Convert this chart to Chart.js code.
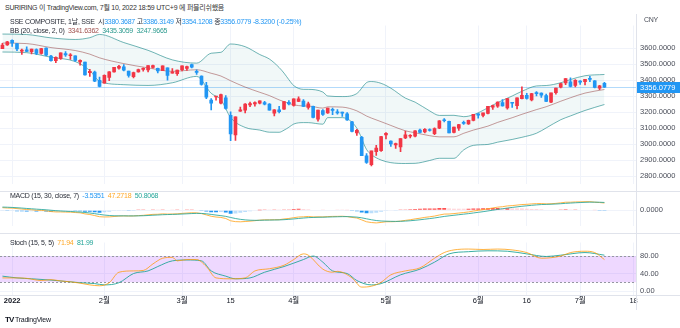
<!DOCTYPE html>
<html><head><meta charset="utf-8">
<script src="https://cdn.jsdelivr.net/npm/chart.js@4.4.0/dist/chart.umd.min.js"></script>
<style>
body{margin:0;background:#fff;overflow:hidden;}
#wrap{position:relative;width:680px;height:328px;font-family:"Liberation Sans",Arial,"Noto Sans CJK KR",sans-serif;}
canvas{position:absolute;left:0;}
.t{position:absolute;white-space:nowrap;font-size:7px;line-height:10px;color:#2a2e39;letter-spacing:-0.25px;}
.ln{position:absolute;background:#e0e3eb;}
</style></head><body>
<div id="wrap">
<canvas id="cMain" width="680" height="175" style="top:17px"></canvas>
<canvas id="cMacd" width="680" height="42" style="top:192px"></canvas>
<canvas id="cStoch" width="680" height="78" style="top:234px"></canvas>
<div class="ln" style="left:0;top:191px;width:680px;height:1px"></div>
<div class="ln" style="left:0;top:233px;width:680px;height:1px"></div>
<div class="ln" style="left:0;top:295px;width:680px;height:1px"></div>
<div class="ln" style="left:636px;top:14px;width:1px;height:296px"></div>
<div class="t" style="left:5px;top:3px;color:#333">SURIRING 이 TradingView.com, 7월 10, 2022 18:59 UTC+9 에 퍼블리쉬했음</div>
<div class="t" style="left:10px;top:17px">SSE COMPOSITE, 1날, SSE&nbsp;&nbsp;시<span style="color:#2196f3">3380.3687</span> 고<span style="color:#2196f3">3386.3149</span> 저<span style="color:#2196f3">3354.1208</span> 종<span style="color:#2196f3">3356.0779 -8.3200 (-0.25%)</span></div>
<div class="t" style="left:10px;top:26px">BB (20, close, 2, 0)&nbsp;&nbsp;<span style="color:#a0504e">3341.6362</span>&nbsp;&nbsp;<span style="color:#2b9a8e">3435.3059</span>&nbsp;&nbsp;<span style="color:#2b9a8e">3247.9665</span></div>
<div class="t" style="left:644px;top:15px;color:#4a4e59">CNY</div>
<div class="t" style="left:10px;top:191px">MACD (15, 30, close, 7)&nbsp;&nbsp;<span style="color:#2196f3">-3.5351</span>&nbsp;&nbsp;<span style="color:#ffa726">47.2718</span>&nbsp;&nbsp;<span style="color:#26a69a">50.8068</span></div>
<div class="t" style="left:10px;top:238px">Stoch (15, 5, 5)&nbsp;&nbsp;<span style="color:#ffa726">71.94</span>&nbsp;&nbsp;<span style="color:#26a69a">81.99</span></div>
<div class="t" style="left:5px;top:315px;font-size:7px;color:#131722"><b style="font-size:8px;letter-spacing:-1px">TV</b>&nbsp;TradingView</div>
</div>
<script>
// ---------- data ----------
const dates = ['2021-12-30','2021-12-31',
'2022-01-04','2022-01-05','2022-01-06','2022-01-07','2022-01-10','2022-01-11','2022-01-12','2022-01-13','2022-01-14','2022-01-17','2022-01-18','2022-01-19','2022-01-20','2022-01-21','2022-01-24','2022-01-25','2022-01-26','2022-01-27','2022-01-28',
'2022-02-07','2022-02-08','2022-02-09','2022-02-10','2022-02-11','2022-02-14','2022-02-15','2022-02-16','2022-02-17','2022-02-18','2022-02-21','2022-02-22','2022-02-23','2022-02-24','2022-02-25','2022-02-28',
'2022-03-01','2022-03-02','2022-03-03','2022-03-04','2022-03-07','2022-03-08','2022-03-09','2022-03-10','2022-03-11','2022-03-14','2022-03-15','2022-03-16','2022-03-17','2022-03-18','2022-03-21','2022-03-22','2022-03-23','2022-03-24','2022-03-25','2022-03-28','2022-03-29','2022-03-30','2022-03-31',
'2022-04-01','2022-04-06','2022-04-07','2022-04-08','2022-04-11','2022-04-12','2022-04-13','2022-04-14','2022-04-15','2022-04-18','2022-04-19','2022-04-20','2022-04-21','2022-04-22','2022-04-25','2022-04-26','2022-04-27','2022-04-28','2022-04-29',
'2022-05-05','2022-05-06','2022-05-09','2022-05-10','2022-05-11','2022-05-12','2022-05-13','2022-05-16','2022-05-17','2022-05-18','2022-05-19','2022-05-20','2022-05-23','2022-05-24','2022-05-25','2022-05-26','2022-05-27','2022-05-30','2022-05-31',
'2022-06-01','2022-06-02','2022-06-06','2022-06-07','2022-06-08','2022-06-09','2022-06-10','2022-06-13','2022-06-14','2022-06-15','2022-06-16','2022-06-17','2022-06-20','2022-06-21','2022-06-22','2022-06-23','2022-06-24','2022-06-27','2022-06-28','2022-06-29','2022-06-30',
'2022-07-01','2022-07-04','2022-07-05','2022-07-06','2022-07-07','2022-07-08'];
const futureDates = ['2022-07-11','2022-07-12','2022-07-13','2022-07-14','2022-07-15','2022-07-18'];

const opens = [3597,3620,3649.15,3628.26,3581.22,3588.99,3577.5,3590,3567,3600,3550,3521,3535,3566,3552,3551,3513,3512,3446,3451,3399,
3381,3417,3452,3475,3483,3456,3421,3451,3467,3464,3480,3473,3459,3477,3443,3441,
3466,3473,3497,3455,3426,3366,3276,3295,3256,3290,3180,3058,3207,3212,3246,3251,3256,3260,3250,3194,3214,3219,3261,
3242,3268,3270,3229,3236,3157,3210,3196,3214,3198,3196,3189,3140,3070,3043,2927,2873,2954,2960,
3058,3020,2995,2983,3039,3050,3050,3089,3077,3092,3066,3100,3147,3143,3073,3100,3131,3127,3148,
3189,3180,3193,3232,3237,3260,3226,3257,3240,3285,3306,3276,3320,3320,3303,3263,3322,3356,3382,3390,3367,
3389,3390,3411,3396,3350,3380.3687];
const highs = [3630,3642,3651.89,3628.26,3594.49,3607.23,3593.6,3596,3598,3602,3555,3545,3570,3578,3566,3551,3527,3513,3467,3457,3419,
3433,3453,3480,3493,3497,3456,3451,3469,3477,3491,3494,3475,3490,3477,3472,3463,
3489,3488,3501,3465,3427,3386,3285,3298,3313,3304,3202,3171,3232,3253,3263,3265,3271,3268,3253,3216,3236,3267,3272,
3283,3296,3278,3263,3238,3213,3216,3226,3225,3216,3200,3197,3143,3093,3049,2942,2958,2993,3050,
3072,3022,3007,3036,3082,3061,3085,3094,3097,3096,3103,3147,3160,3144,3107,3124,3144,3150,3186,
3192,3195,3237,3244,3265,3278,3286,3261,3289,3358,3318,3317,3328,3321,3313,3320,3350,3381,3409,3414,3404,
3397,3405,3424,3397,3368,3386.3149];
const lows = [3596,3617,3610.09,3583.47,3559.88,3577.93,3564,3559,3562,3552,3519,3509,3530,3548,3529,3517,3493,3431,3424,3390,3357,
3381,3397,3449,3469,3457,3419,3414,3449,3456,3452,3474,3445,3459,3400,3443,3429,
3458,3461,3476,3435,3369,3284,3214,3275,3251,3219,3023,3024,3205,3196,3235,3237,3252,3245,3212,3177,3196,3218,3245,
3237,3265,3234,3219,3164,3144,3180,3192,3185,3187,3173,3148,3077,3055,2928,2880,2864,2931,2955,
3033,2986,2974,2953,3035,3040,3045,3070,3070,3082,3060,3097,3140,3070,3070,3086,3124,3123,3145,
3162,3170,3189,3217,3230,3238,3219,3230,3221,3283,3281,3270,3301,3292,3266,3260,3313,3352,3372,3358,3358,
3373,3370,3391,3351,3341,3354.1208];
const closes = [3619.19,3639.78,3632.33,3595.18,3586.08,3579.54,3593.52,3567.44,3597.43,3555.26,3521.26,3541.67,3569.91,3558.18,3555.06,3522.57,3524.11,3433.06,3455.67,3394.25,3361.44,
3429.58,3452.63,3479.95,3485.91,3462.95,3428.88,3446.65,3465.83,3468.04,3490.76,3490.61,3457.15,3489.15,3429.96,3451.41,3462.31,
3488.83,3484.19,3481.11,3447.65,3372.86,3293.53,3256.39,3296.09,3309.75,3223.53,3063.97,3170.71,3215.04,3251.07,3253.69,3259.86,3271.03,3250.26,3212.24,3214.50,3203.94,3266.60,3252.20,
3282.72,3283.43,3236.70,3251.85,3167.13,3213.33,3186.82,3225.64,3211.24,3195.52,3194.03,3151.05,3079.81,3086.92,2928.51,2886.43,2958.28,2975.49,3047.06,
3067.76,3001.56,3004.14,3035.84,3058.70,3054.99,3084.28,3073.75,3093.70,3085.98,3096.96,3146.86,3146.57,3070.93,3107.46,3123.11,3130.24,3149.06,3186.43,
3182.16,3195.46,3236.37,3241.76,3263.79,3238.95,3284.83,3255.55,3288.91,3305.41,3285.38,3316.79,3315.43,3306.72,3267.20,3320.15,3349.75,3379.19,3409.21,3361.52,3398.62,
3387.64,3405.43,3404.03,3355.35,3364.40,3356.0779];

// Bollinger Bands (20, 2) read at selected bars
const bbIdx   = [0,5,10,15,18,20,25,30,35,40,43,45,47,50,53,55,57,58,59,60,62,63,66,67,70,73,75,76,78,80,83,85,88,90,93,95,97,100,102,105,107,110,112,115,117,120,124];
const bbBasis = [3631.6,3628.1,3603.2,3584.8,3562.2,3539.2,3503.1,3476.5,3455.0,3464.8,3442.8,3425.6,3396.2,3356.8,3324.2,3303.3,3276.7,3265.8,3254.4,3246.1,3238.8,3238.6,3225.4,3233.5,3231.7,3208.4,3176.0,3163.2,3140.7,3117.5,3083.8,3071.8,3053.3,3046.0,3046.3,3068.2,3088.3,3113.1,3136.4,3165.5,3186.8,3216.2,3234.0,3268.4,3290.2,3319.2,3341.6];
const bbUpper = [3687.6,3684.7,3663.8,3653.8,3665.0,3685.2,3634.5,3586.1,3526.4,3506.2,3568.0,3573.6,3625.6,3608.8,3560.0,3531.5,3478.7,3444.0,3402.8,3366.1,3342.6,3342.4,3325.6,3301.1,3297.5,3316.4,3384.6,3391.4,3380.1,3349.9,3287.8,3262.8,3208.1,3179.8,3180.5,3172.0,3183.7,3227.5,3259.8,3301.1,3330.4,3363.8,3366.4,3383.8,3403.8,3427.6,3435.3];
const bbLower = [3575.6,3571.5,3542.6,3515.8,3459.4,3393.2,3371.7,3366.9,3383.6,3423.4,3317.6,3277.6,3166.8,3104.8,3088.4,3075.1,3074.7,3087.6,3106.0,3126.1,3135.0,3134.8,3125.2,3165.9,3165.9,3100.4,2967.4,2935.0,2901.3,2885.1,2879.8,2880.8,2898.5,2912.2,2912.1,2964.4,2992.9,2998.7,3013.0,3029.9,3043.2,3068.6,3101.6,3153.0,3176.6,3210.8,3248.0];

// MACD (15, 30, 7)
const macdLine = [17.0,15.0,14.2,11.2,8.1,5.1,3.5,0.4,-0.3,-3.4,-7.9,-10.3,-10.4,-11.2,-11.9,-14.3,-16.1,-23.0,-27.0,-33.9,-41.3,
-42.8,-42.3,-39.9,-37.2,-36.1,-36.9,-36.3,-34.3,-32.3,-29.0,-26.1,-25.5,-22.9,-24.2,-23.7,-22.5,
-19.7,-17.6,-15.9,-16.3,-21.0,-29.5,-38.5,-43.2,-45.8,-52.7,-67.7,-73.0,-74.1,-72.2,-69.9,-67.0,-63.4,-61.2,-61.3,-60.7,-60.4,-55.8,-52.5,
-47.5,-43.0,-41.8,-39.5,-42.5,-41.9,-42.6,-40.4,-39.3,-39.0,-38.4,-40.3,-45.9,-49.6,-61.8,-73.9,-78.9,-81.3,-78.2,
-73.8,-73.6,-72.7,-69.5,-64.9,-60.9,-55.3,-50.9,-45.7,-41.6,-37.2,-30.2,-24.3,-23.8,-21.0,-17.6,-14.3,-10.3,-4.7,
-0.3,4.1,10.1,15.3,20.7,23.5,28.4,30.5,33.9,37.4,38.7,41.5,43.3,43.9,41.6,42.6,44.9,48.2,52.3,52.4,54.3,
54.8,55.8,56.1,52.8,50.3,47.27];
const signalLine = [21.0,20.0,18.6,16.8,14.6,12.2,10.0,7.6,5.6,3.4,0.6,-2.1,-4.2,-6.0,-7.5,-9.2,-10.9,-13.9,-17.2,-21.4,-26.4,
-30.5,-33.5,-35.1,-35.6,-35.7,-36.0,-36.1,-35.7,-34.9,-33.4,-31.6,-30.1,-28.3,-27.3,-26.4,-25.4,
-24.0,-22.4,-20.8,-19.7,-20.0,-22.4,-26.4,-30.6,-34.4,-39.0,-46.2,-52.9,-58.2,-61.7,-63.8,-64.6,-64.3,-63.5,-63.0,-62.4,-61.9,-60.4,-58.4,
-55.7,-52.5,-49.8,-47.2,-46.0,-45.0,-44.4,-43.4,-42.4,-41.5,-40.7,-40.6,-41.9,-43.8,-48.3,-54.7,-60.8,-65.9,-69.0,
-70.2,-71.1,-71.5,-71.0,-69.5,-67.3,-64.3,-61.0,-57.2,-53.3,-49.3,-44.5,-39.5,-35.6,-31.9,-28.3,-24.8,-21.2,-17.1,
-12.9,-8.7,-4.0,0.8,5.8,10.2,14.8,18.7,22.5,26.2,29.3,32.4,35.1,37.3,38.4,39.4,40.8,42.7,45.1,46.9,48.8,
50.3,51.7,52.8,52.6,52.2,50.81];
const macdHist = [-4.0,-5.0,-4.4,-5.6,-6.5,-7.1,-6.5,-7.2,-5.9,-6.8,-8.5,-8.2,-6.2,-5.2,-4.4,-5.1,-5.2,-9.1,-9.8,-12.5,-14.9,
-12.3,-8.8,-4.8,-1.6,-0.4,-0.9,-0.2,1.4,2.6,4.4,5.5,4.6,5.4,3.1,2.7,2.9,
4.3,4.8,4.9,3.4,-1.0,-7.1,-12.1,-12.6,-11.4,-13.7,-21.5,-20.1,-15.9,-10.5,-6.1,-2.4,0.9,2.3,1.7,1.7,1.5,4.6,5.9,
8.2,9.5,8.0,7.7,3.5,3.1,1.8,3.0,3.1,2.5,2.3,0.3,-4.0,-5.8,-13.5,-19.2,-18.1,-15.4,-9.2,
-3.6,-2.5,-1.2,1.5,4.6,6.4,9.0,10.1,11.5,11.7,12.1,14.3,15.2,11.8,10.9,10.7,10.5,10.9,12.4,
12.6,12.8,14.1,14.5,14.9,13.3,13.6,11.8,11.4,11.2,9.4,9.1,8.2,6.6,3.2,3.2,4.1,5.5,7.2,5.5,5.5,
4.5,4.1,3.3,0.2,-1.9,-3.54];

// Stoch (15, 5, 5) read at selected bars
const stochKIdx = [0,3,5,8,10,12,14,16,18,20,22,24,27,29,31,33,35,36,38,40,42,44,47,50,52,55,58,60,62,63,66,68,69,72,74,76,78,80,83,86,89,91,93,96,99,102,105,108,111,115,117,120,122,124];
const stochK    = [30,30,29,24,26,23,21,18,14,12,19,43,46,47,62,75,77,69,72,72,56,30,28,30,46,51,59,72,85,82,50,43,45,30,9,11,20,37,46,53,75,88,94,96,95,96,94,88,75,80,88,91,88,71.94];
const stochDIdx = [0,3,6,10,13,16,19,21,24,27,30,32,35,38,41,43,46,48,51,54,58,62,64,66,68,71,73,76,78,82,86,89,92,96,100,104,108,112,115,120,124];
const stochD    = [34,30,28,25,22,19,17,14,19,40,46,56,69,71,69,46,34,28,30,43,56,72,80,66,46,40,24,14,17,37,50,66,85,90,92,91,85,79,82,88,81.99];

const priceTicks = [2800,2900,3000,3100,3200,3300,3400,3500,3600];
const macdTicks = [0];
const stochTicks = [0,40,80];
const xTickText = {'2022-01-04':'2022','2022-02-07':'2월','2022-03-01':'3월','2022-03-15':'15','2022-04-01':'4월','2022-05-05':'5월','2022-06-01':'6월','2022-06-16':'16','2022-07-01':'7월','2022-07-18':'18'};

// ---------- chart ----------
const labels = dates.concat(futureDates);
const FONT = "'Liberation Sans', Arial, 'Noto Sans CJK KR', sans-serif";
const UP = '#f23645', DN = '#2196f3';
const GRID = '#f0f3fa';
const AXIS_TXT = '#4a4e59';
const candleColors = closes.map((c,i)=> c >= opens[i] ? UP : DN);
const pts = (idx, vals) => idx.map((k,j)=>({x: labels[k], y: vals[j]}));
const histColors = macdHist.map((h,i)=>{
  const p = i>0 ? macdHist[i-1] : h;
  if (h >= 0) return h >= p ? '#ff5252' : '#ffcdd2';
  return h < p ? '#2196f3' : '#bbdefb';
});
const xGridColor = ctx => xTickText[labels[ctx.index]] ? GRID : 'rgba(0,0,0,0)';

function xScale(showLabels){
  return {
    type:'category', offset:true,
    grid:{offset:false, color:xGridColor, drawTicks:false},
    border:{display:false},
    ticks: showLabels ? {
      autoSkip:false, maxRotation:0, minRotation:0, padding:1, color:'#131722',
      font: ctx => ({family:FONT, size:7.5, weight: (ctx.tick && xTickText[labels[ctx.tick.value]]==='2022') ? 'bold':'normal'}),
      callback: (v)=> xTickText[labels[v]] || ''
    } : {display:false, autoSkip:false},
    afterFit: s => { s.height = showLabels ? 17 : 0; }
  };
}
function yScale(min, max, ticks, dec){
  return {
    position:'right', min, max,
    afterBuildTicks: s => { s.ticks = ticks.map(v=>({value:v})); },
    ticks:{callback: v => Number(v).toFixed(dec), font:{family:FONT, size:7.5}, color:AXIS_TXT, padding:4, crossAlign:'near'},
    grid:{color:GRID, drawTicks:false},
    border:{display:false},
    afterFit: s => { s.width = 44; }
  };
}
const common = {responsive:false, animation:false, events:[], layout:{padding:0},
  plugins:{legend:{display:false}, tooltip:{enabled:false}}};

const lastPrice = {
  id:'lastPrice',
  beforeDatasetsDraw(chart){
    const {ctx, chartArea, scales:{y}} = chart;
    const py = Math.round(y.getPixelForValue(closes[closes.length-1])) + 0.5;
    ctx.save(); ctx.strokeStyle='rgba(33,150,243,0.35)'; ctx.lineWidth=1;
    ctx.beginPath(); ctx.moveTo(chartArea.left, py); ctx.lineTo(chartArea.right, py); ctx.stroke(); ctx.restore();
  },
  afterDraw(chart){
    const {ctx, chartArea, scales:{y}} = chart;
    const v = closes[closes.length-1];
    const py = Math.round(y.getPixelForValue(v));
    ctx.save(); ctx.fillStyle = DN; ctx.fillRect(chartArea.right+1, py-5, 43, 11);
    ctx.fillStyle='#fff'; ctx.font = '7.5px ' + FONT; ctx.textBaseline='middle';
    ctx.fillText(v.toFixed(4), chartArea.right+4, py+0.5); ctx.restore();
  }
};

new Chart(document.getElementById('cMain'), {
  type:'bar',
  data:{labels, datasets:[
    {type:'bar', data: lows.map((l,i)=>[l, highs[i]]), backgroundColor:candleColors, barThickness:1, grouped:false, order:1},
    {type:'bar', data: opens.map((o,i)=>[o, closes[i]]), backgroundColor:candleColors, barThickness:3, grouped:false, minBarLength:1, order:0},
    {type:'line', data: pts(bbIdx, bbUpper), borderColor:'rgba(19,132,132,0.6)', borderWidth:1, pointRadius:0, cubicInterpolationMode:'monotone', fill:'+1', backgroundColor:'rgba(25,135,135,0.06)', order:4},
    {type:'line', data: pts(bbIdx, bbLower), borderColor:'rgba(19,132,132,0.6)', borderWidth:1, pointRadius:0, cubicInterpolationMode:'monotone', fill:false, order:4},
    {type:'line', data: pts(bbIdx, bbBasis), borderColor:'rgba(135,35,35,0.45)', borderWidth:1, pointRadius:0, cubicInterpolationMode:'monotone', fill:false, order:3}
  ]},
  options:{...common, scales:{x:xScale(false), y:yScale(2755, 3741, priceTicks, 4)}},
  plugins:[lastPrice]
});

new Chart(document.getElementById('cMacd'), {
  type:'bar',
  data:{labels, datasets:[
    {type:'bar', data: macdHist, backgroundColor:histColors, barPercentage:0.8, categoryPercentage:1, order:2},
    {type:'line', data: macdLine, borderColor:'rgba(255,167,38,0.85)', borderWidth:1, pointRadius:0, order:1},
    {type:'line', data: signalLine, borderColor:'rgba(38,166,154,0.85)', borderWidth:1, pointRadius:0, order:0}
  ]},
  options:{...common, scales:{x:xScale(false), y:yScale(-98, 63.5, macdTicks, 4)}}
});

const band = {
  id:'band',
  beforeDatasetsDraw(chart){
    const {ctx, chartArea, scales:{y}} = chart;
    const y80 = y.getPixelForValue(80), y20 = y.getPixelForValue(20);
    ctx.save();
    ctx.fillStyle='rgba(153,21,255,0.17)';
    ctx.fillRect(chartArea.left, y80, chartArea.right-chartArea.left, y20-y80);
    ctx.strokeStyle='#9598a1'; ctx.lineWidth=1; ctx.setLineDash([2,2]);
    [y80,y20].forEach(p=>{ctx.beginPath(); ctx.moveTo(chartArea.left, Math.round(p)+0.5); ctx.lineTo(chartArea.right, Math.round(p)+0.5); ctx.stroke();});
    ctx.restore();
  }
};
new Chart(document.getElementById('cStoch'), {
  type:'line',
  data:{labels, datasets:[
    {data: pts(stochKIdx, stochK), borderColor:'rgba(255,152,0,0.75)', borderWidth:1, pointRadius:0, cubicInterpolationMode:'monotone'},
    {data: pts(stochDIdx, stochD), borderColor:'rgba(38,166,154,0.9)', borderWidth:1, pointRadius:0, cubicInterpolationMode:'monotone'}
  ]},
  options:{...common, scales:{x:xScale(true), y:yScale(-9.1, 111, stochTicks, 2)}},
  plugins:[band]
});
</script>
</body></html>
